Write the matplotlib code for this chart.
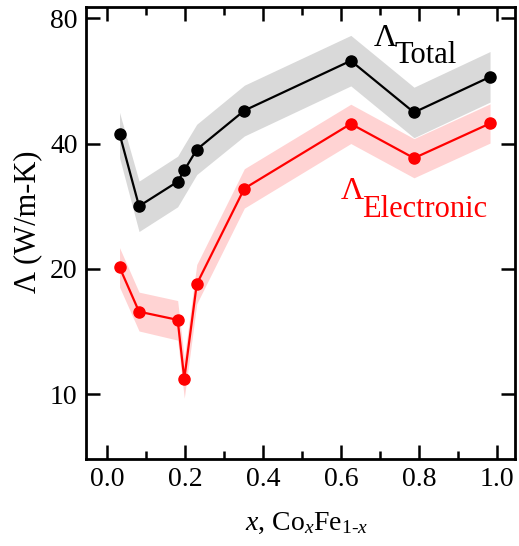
import matplotlib
matplotlib.use("Agg")
import matplotlib.pyplot as plt
from matplotlib.ticker import FixedLocator, MultipleLocator, NullLocator

plt.rcParams['font.family'] = ['Liberation Serif', 'DejaVu Serif']
plt.rcParams['mathtext.fontset'] = 'custom'
plt.rcParams['mathtext.rm'] = 'Liberation Serif'
plt.rcParams['mathtext.it'] = 'Liberation Serif:italic'

# Co fraction x in CoxFe(1-x)
composition = [0.032, 0.082, 0.181, 0.198, 0.230, 0.352, 0.625, 0.787, 0.982]

# total thermal conductivity and its uncertainty band (W/m-K)
total = [42.2, 28.3, 32.4, 34.5, 38.7, 48.0, 63.2, 47.5, 57.8]
total_hi = [47.5, 32.5, 37.3, 39.7, 44.5, 55.2, 72.7, 54.6, 66.5]
total_lo = [37.0, 24.6, 28.2, 30.0, 33.7, 41.7, 55.0, 41.3, 50.3]

# electronic contribution and its band
electronic = [20.2, 15.8, 15.1, 10.9, 18.4, 31.2, 44.6, 36.9, 44.7]
elec_hi = [22.5, 17.6, 16.8, 12.2, 20.5, 34.8, 49.7, 41.1, 49.8]
elec_lo = [18.1, 14.2, 13.5, 9.8, 16.5, 28.0, 40.0, 33.1, 40.1]

y_ticks = [10, 20, 40, 80]
x_ticks = [0.0, 0.2, 0.4, 0.6, 0.8, 1.0]

fig = plt.figure(figsize=(5.19, 5.46), dpi=100)
ax = fig.add_axes([0.1657, 0.1593, 0.8266, 0.8277])

ax.fill_between(composition, total_lo, total_hi, color='#d9d9d9', lw=0)
ax.fill_between(composition, elec_lo, elec_hi, color='#ffd3d3', lw=0)
ax.plot(composition, total, '-o', color='black', lw=1.6, ms=8)
ax.plot(composition, electronic, '-o', color='#ff0000', lw=1.6, ms=8)

ax.set_yscale('log')
ax.set_ylim(7, 85)
ax.set_xlim(-0.054, 1.046)
ax.yaxis.set_major_locator(FixedLocator(y_ticks))
ax.yaxis.set_minor_locator(NullLocator())
ax.set_yticklabels([str(t) for t in y_ticks])
ax.set_xticks(x_ticks)
ax.set_xticklabels([f"{t:.1f}" for t in x_ticks])
ax.xaxis.set_minor_locator(MultipleLocator(0.1))

ax.tick_params(which='both', direction='in', top=True, right=True,
               width=1.8, labelsize=20)
ax.tick_params(which='major', length=10, pad=6)
ax.tick_params(which='minor', length=6)
for sp in ax.spines.values():
    sp.set_linewidth(2)

ax.set_ylabel('Λ (W/m-K)', fontsize=22)
ax.yaxis.set_label_coords(-0.103, 0.525)
ax.set_xlabel(r'$x$, Co$_x$Fe$_{1\text{-}x}$', fontsize=20)
ax.xaxis.set_label_coords(0.514, -0.115)

# curve labels: big Lambda with a near full-size subscript
ax.text(0.685, 68.6, 'Λ', fontsize=23, color='black', ha='left', va='baseline')
ax.text(0.736, 62.4, 'Total', fontsize=22, color='black', ha='left', va='baseline')
ax.text(0.600, 29.4, 'Λ', fontsize=23, color='#ff0000', ha='left', va='baseline')
ax.text(0.653, 26.6, 'Electronic', fontsize=22, color='#ff0000', ha='left', va='baseline')

fig.savefig('out.png', dpi=100)
